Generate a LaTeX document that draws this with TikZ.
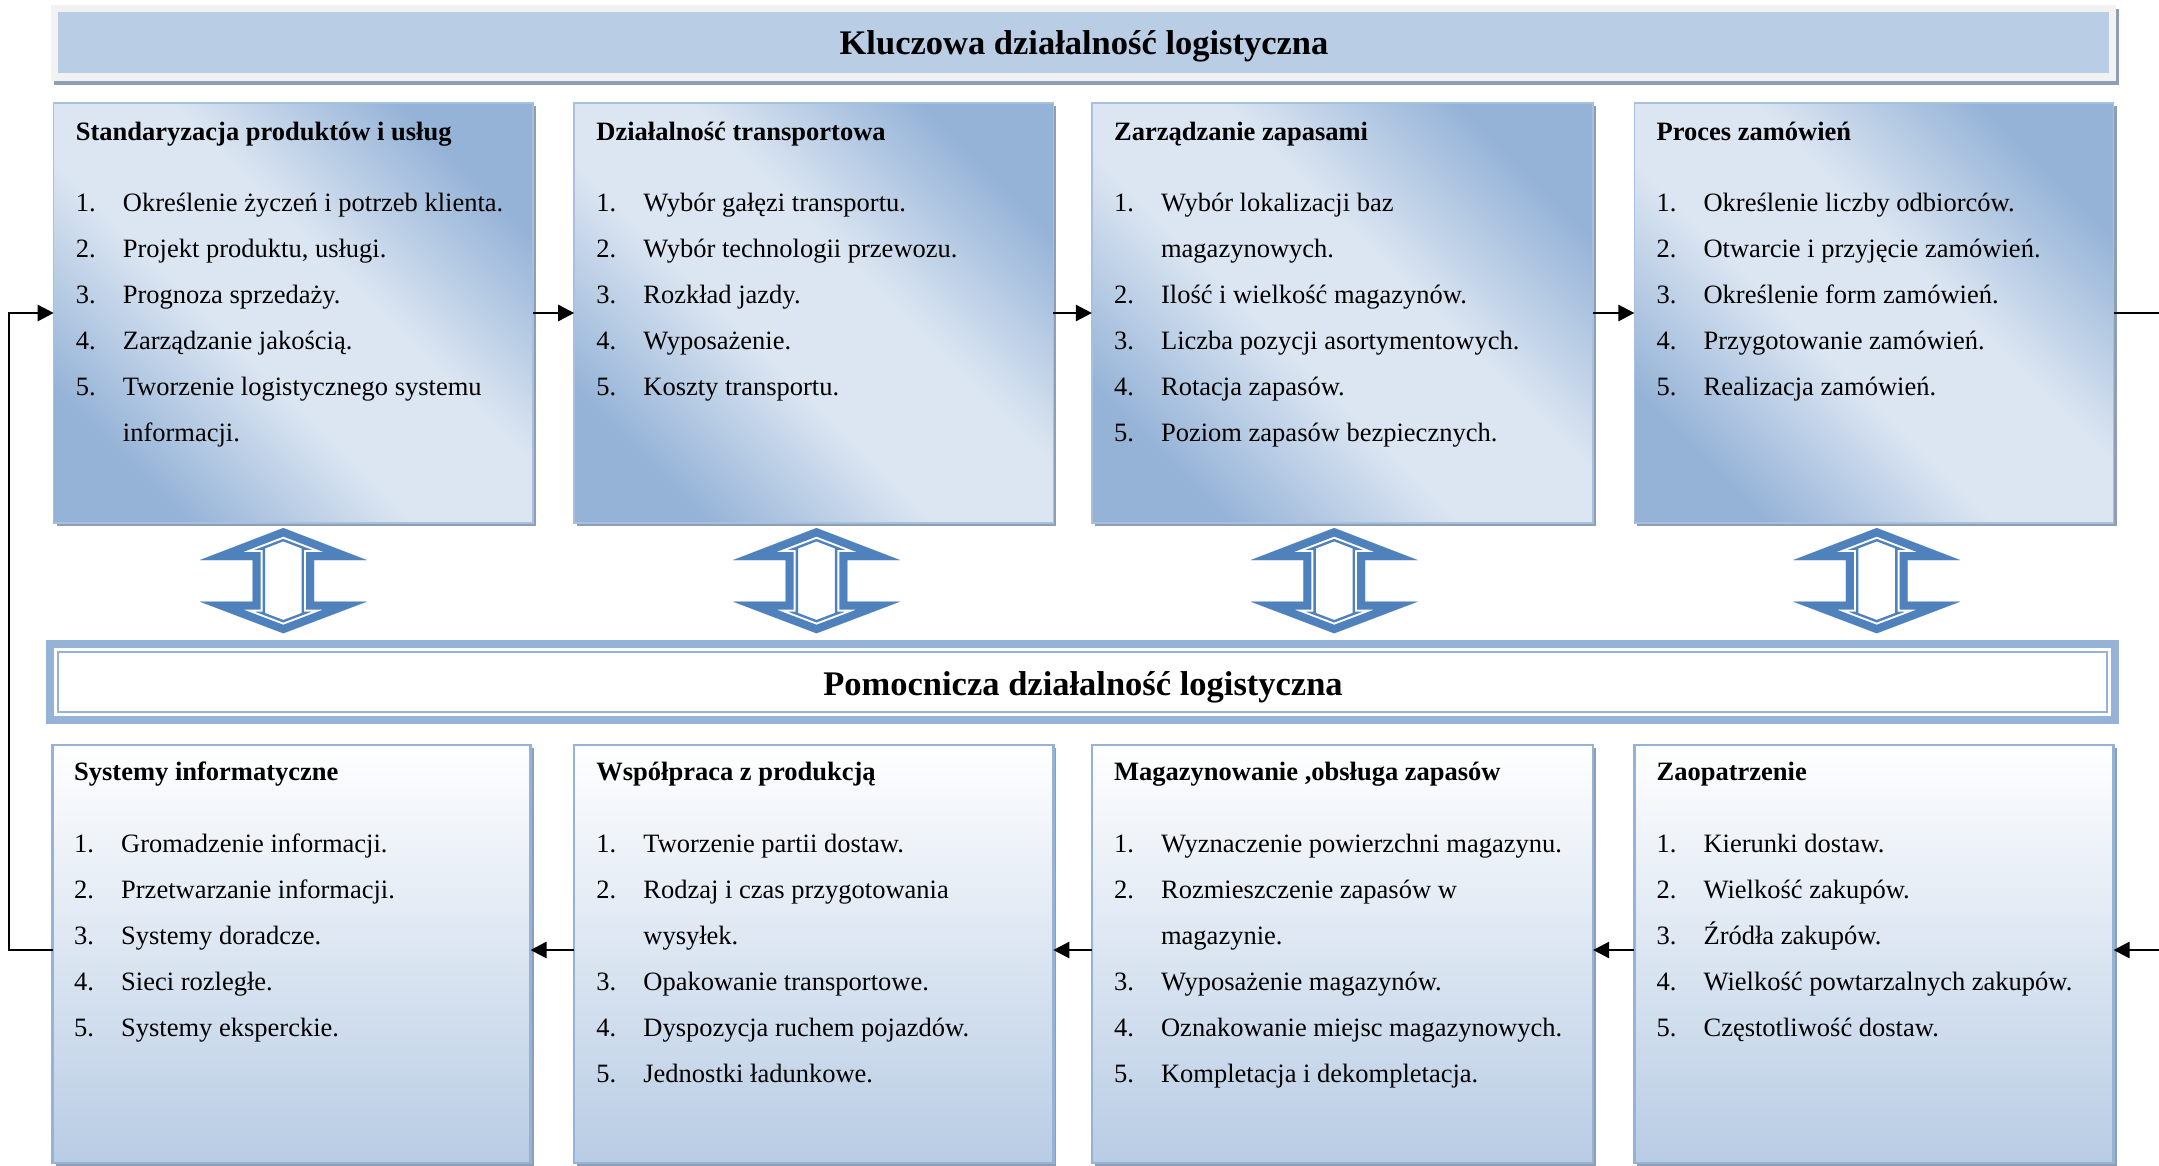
\documentclass[tikz,border=0pt]{standalone}
\usepackage{fontspec}
\setmainfont{Liberation Serif}
\usetikzlibrary{arrows.meta,shadows}

\definecolor{hdrfill}{HTML}{B9CDE5}
\definecolor{hdrframe}{HTML}{F2F2F2}
\definecolor{shgray}{HTML}{8E9EB5}
\definecolor{tdark}{HTML}{95B3D7}
\definecolor{tlight}{HTML}{DCE6F2}
\definecolor{tborder}{HTML}{A8C0DE}
\definecolor{bblue}{HTML}{B8CCE4}
\definecolor{bborder}{HTML}{95B3D7}
\definecolor{bandblue}{HTML}{95B3D7}
\definecolor{udblue}{HTML}{4F81BD}

% diagonal dark-light-dark fill of the core activity boxes
\pgfdeclareverticalshading{coregrad}{100bp}{
  color(0bp)=(tdark); color(25bp)=(tdark); color(43bp)=(tlight);
  color(57bp)=(tlight); color(75bp)=(tdark); color(100bp)=(tdark)}

% heading line and numbered lines of one box
\newcommand\boxtext[5]{%
  \node[headtxt] (#1-h) at (#2,#3) {#4};
  \foreach \num/\txt [count=\k] in {#5}{
    \node[itemtxt] (#1-\k) at (#2, #3+25.7+46*\k) {\makebox[47pt][l]{\num}\txt};
  }
}

\tikzset{
  headtxt/.style={anchor=base west, inner sep=0pt, font=\bfseries\fontsize{26.5}{30}\selectfont},
  itemtxt/.style={anchor=base west, inner sep=0pt, font=\fontsize{26.5}{30}\selectfont},
  titletxt/.style={anchor=base, inner sep=0pt, font=\bfseries\fontsize{34.5}{40}\selectfont},
  boxshadow/.style={drop shadow={shadow xshift=3pt, shadow yshift=-3pt, fill=shgray, opacity=1}},
  topbox/.style={anchor=north west, inner sep=0pt, outer sep=0pt, minimum height=420pt,
    draw=tborder, line width=1.5pt, shading=coregrad, shading angle=135, boxshadow},
  botbox/.style={anchor=north west, inner sep=0pt, outer sep=0pt, minimum height=418pt,
    draw=bborder, line width=2.5pt, top color=white, bottom color=bblue, boxshadow},
  flow/.style={line width=2.6pt},
  conn/.style={flow, -{Triangle[length=16pt,width=16pt]}},
  pics/updown/.style={code={
    \begin{scope}
      \clip (0,528) -- (83.3,560) -- (30.8,560) -- (30.8,601.7) -- (83.3,601.7) -- (0,633.3)
        -- (-83.3,601.7) -- (-30.8,601.7) -- (-30.8,560) -- (-83.3,560) -- cycle;
      \draw[udblue, line width=16pt, line join=miter,
        preaction={fill=white},
        preaction={draw=udblue, line width=25pt},
        preaction={draw=white, line width=20pt}]
        (0,528) -- (83.3,560) -- (30.8,560) -- (30.8,601.7) -- (83.3,601.7) -- (0,633.3)
        -- (-83.3,601.7) -- (-30.8,601.7) -- (-30.8,560) -- (-83.3,560) -- cycle;
    \end{scope}
  }}
}

\begin{document}
\begin{tikzpicture}[x=1pt, y=-1pt]
\useasboundingbox[fill=white] (0,0) rectangle (2159,1165);

% header
\node[anchor=north west, inner sep=0pt, minimum width=2065pt, minimum height=76pt,
  fill=hdrframe, drop shadow={shadow xshift=3pt, shadow yshift=-4pt, fill=shgray, opacity=1}]
  (hdrframe) at (51,5) {};
\node[anchor=north west, inner sep=0pt, minimum width=2051pt, minimum height=61pt, fill=hdrfill]
  (hdr) at (58,12) {};
\node[titletxt] (hdrtitle) at (1084,54) {Kluczowa działalność logistyczna};

% core activity boxes
\node[topbox, minimum width=479.2pt] (t1) at (53.7,103) {};
\node[topbox, minimum width=479.1pt] (t2) at (574.2,103) {};
\node[topbox, minimum width=501.2pt] (t3) at (1091.9,103) {};
\node[topbox, minimum width=479.1pt] (t4) at (1634.4,103) {};

% supporting band
\node[anchor=center, inner sep=0pt, minimum width=2065pt, minimum height=76pt,
  draw=bandblue, line width=8pt, fill=white] (band) at (1082.5,682) {};
\node[anchor=center, inner sep=0pt, minimum width=2049.5pt, minimum height=60pt,
  draw=bandblue, line width=2pt] (bandin) at (1082.5,682) {};
\node[titletxt] (bandtitle) at (1083,695.5) {Pomocnicza działalność logistyczna};

% supporting activity boxes
\node[botbox, minimum width=478pt] (b1) at (52.5,745) {};
\node[botbox, minimum width=479.1pt] (b2) at (574.2,745) {};
\node[botbox, minimum width=501.2pt] (b3) at (1091.9,745) {};
\node[botbox, minimum width=479.1pt] (b4) at (1634.4,745) {};

% box texts
\boxtext{t1}{75.7}{140}{Standaryzacja produktów i usług}{
  1./{Określenie życzeń i potrzeb klienta.},
  2./{Projekt produktu, usługi.},
  3./{Prognoza sprzedaży.},
  4./{Zarządzanie jakością.},
  5./{Tworzenie logistycznego systemu},
  {}/{informacji.}}
\boxtext{t2}{596.2}{140}{Działalność transportowa}{
  1./{Wybór gałęzi transportu.},
  2./{Wybór technologii przewozu.},
  3./{Rozkład jazdy.},
  4./{Wyposażenie.},
  5./{Koszty transportu.}}
\boxtext{t3}{1113.9}{140}{Zarządzanie zapasami}{
  1./{Wybór lokalizacji baz},
  {}/{magazynowych.},
  2./{Ilość i wielkość magazynów.},
  3./{Liczba pozycji asortymentowych.},
  4./{Rotacja zapasów.},
  5./{Poziom zapasów bezpiecznych.}}
\boxtext{t4}{1656.4}{140}{Proces zamówień}{
  1./{Określenie liczby odbiorców.},
  2./{Otwarcie i przyjęcie zamówień.},
  3./{Określenie form zamówień.},
  4./{Przygotowanie zamówień.},
  5./{Realizacja zamówień.}}

\boxtext{b1}{74}{780.5}{Systemy informatyczne}{
  1./{Gromadzenie informacji.},
  2./{Przetwarzanie informacji.},
  3./{Systemy doradcze.},
  4./{Sieci rozległe.},
  5./{Systemy eksperckie.}}
\boxtext{b2}{596.2}{780.5}{Współpraca z produkcją}{
  1./{Tworzenie partii dostaw.},
  2./{Rodzaj i czas przygotowania},
  {}/{wysyłek.},
  3./{Opakowanie transportowe.},
  4./{Dyspozycja ruchem pojazdów.},
  5./{Jednostki ładunkowe.}}
\boxtext{b3}{1113.9}{780.5}{Magazynowanie ,obsługa zapasów}{
  1./{Wyznaczenie powierzchni magazynu.},
  2./{Rozmieszczenie zapasów w},
  {}/{magazynie.},
  3./{Wyposażenie magazynów.},
  4./{Oznakowanie miejsc magazynowych.},
  5./{Kompletacja i dekompletacja.}}
\boxtext{b4}{1656.4}{780.5}{Zaopatrzenie}{
  1./{Kierunki dostaw.},
  2./{Wielkość zakupów.},
  3./{Źródła zakupów.},
  4./{Wielkość powtarzalnych zakupów.},
  5./{Częstotliwość dostaw.}}

% two-way links between the rows
\pic at (283.3,0) {updown};
\pic at (816.5,0) {updown};
\pic at (1334.2,0) {updown};
\pic at (1876.7,0) {updown};

% flow connectors
\coordinate (rtop) at (2159,313);
\coordinate (rbot) at (2159,950);
\coordinate (lcorner) at (9,950);
\draw[conn] (t1.east) -- (t2.west);
\draw[conn] (t2.east) -- (t3.west);
\draw[conn] (t3.east) -- (t4.west);
\draw[flow] (t4.east) -- (rtop);
\draw[conn] (rbot) -- ([yshift=4pt]b4.east);
\draw[conn] ([yshift=4pt]b4.west) -- ([yshift=4pt]b3.east);
\draw[conn] ([yshift=4pt]b3.west) -- ([yshift=4pt]b2.east);
\draw[conn] ([yshift=4pt]b2.west) -- ([yshift=4pt]b1.east);
\draw[conn] ([yshift=4pt]b1.west) -- (lcorner) |- (t1.west);
\end{tikzpicture}
\end{document}
